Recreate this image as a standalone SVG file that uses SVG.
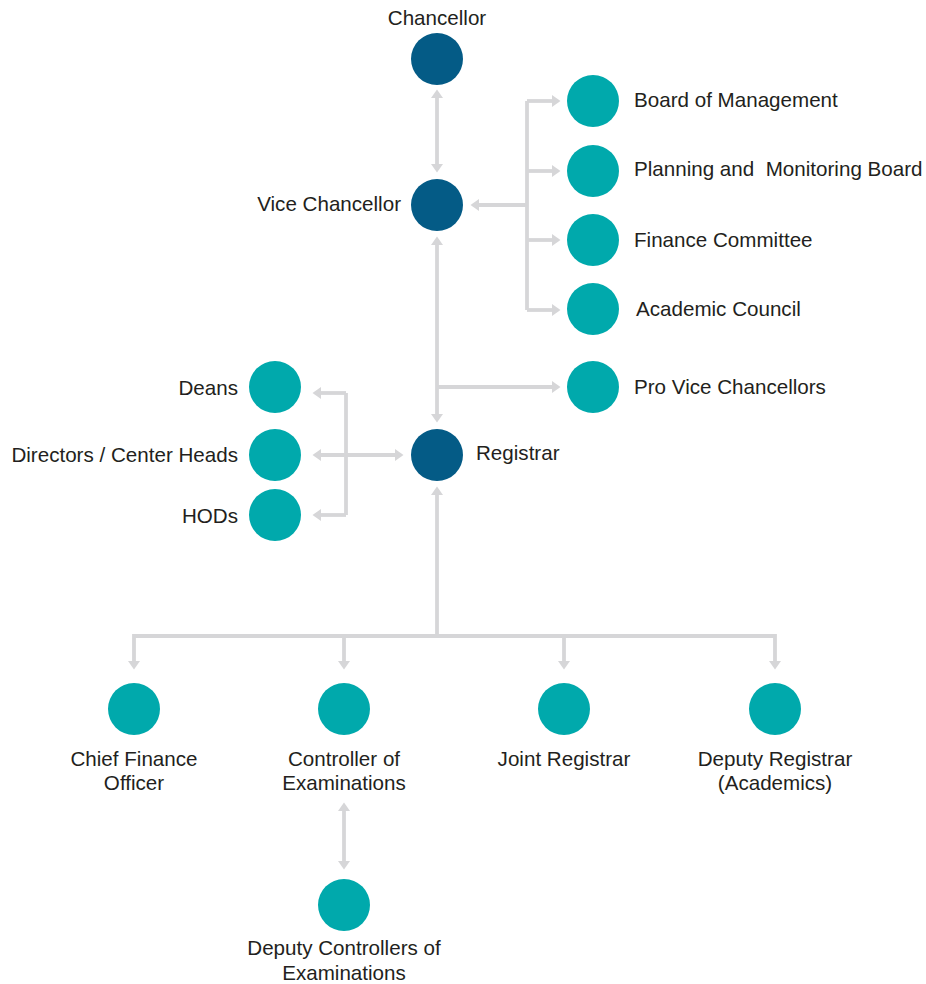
<svg xmlns="http://www.w3.org/2000/svg" width="926" height="984" viewBox="0 0 926 984">
<style>
.c{stroke:none}
.dk{fill:#045b86}
.tl{fill:#00a9ac}
text{font-family:"Liberation Sans",Arial,sans-serif;font-size:20.6px;fill:#231f20}
.m{text-anchor:middle}
.e{text-anchor:end}
.ln{fill:none;stroke:#d6d6d8;stroke-width:3.8}
</style>
<defs>
<marker id="a" markerUnits="userSpaceOnUse" markerWidth="12" markerHeight="13" refX="4" refY="6" orient="auto-start-reverse" viewBox="0 0 12 13">
<path d="M0,0 L8.5,6 L0,12 z" fill="#d6d6d8"/>
</marker>
</defs>
<rect width="926" height="984" fill="#ffffff"/>
<g id="connectors">
<path class="ln" d="M437,94 L437,168" marker-start="url(#a)" marker-end="url(#a)"/>
<path class="ln" d="M527,205 L475,205" marker-end="url(#a)"/>
<path class="ln" d="M527,101 L527,310"/>
<path class="ln" d="M527,101 L556,101" marker-end="url(#a)"/>
<path class="ln" d="M527,171 L556,171" marker-end="url(#a)"/>
<path class="ln" d="M527,240 L556,240" marker-end="url(#a)"/>
<path class="ln" d="M527,310 L556,310" marker-end="url(#a)"/>
<path class="ln" d="M437,241 L437,418" marker-start="url(#a)" marker-end="url(#a)"/>
<path class="ln" d="M437,387 L556,387" marker-end="url(#a)"/>
<path class="ln" d="M399,455 L317,455" marker-start="url(#a)" marker-end="url(#a)"/>
<path class="ln" d="M346,393 L346,515"/>
<path class="ln" d="M346,393 L317,393" marker-end="url(#a)"/>
<path class="ln" d="M346,515 L317,515" marker-end="url(#a)"/>
<path class="ln" d="M437,491 L437,636" marker-start="url(#a)"/>
<path class="ln" d="M134,665 L134,636 L775,636 L775,665" marker-start="url(#a)" marker-end="url(#a)"/>
<path class="ln" d="M344,636 L344,665" marker-end="url(#a)"/>
<path class="ln" d="M564,636 L564,665" marker-end="url(#a)"/>
<path class="ln" d="M344,807 L344,865" marker-start="url(#a)" marker-end="url(#a)"/>
</g>
<g id="chancellor"><circle class="c dk" cx="437" cy="59" r="26"/><text class="m" x="437" y="25">Chancellor</text></g>
<g id="vice-chancellor"><circle class="c dk" cx="437" cy="205" r="26"/><text class="e" x="401" y="211">Vice Chancellor</text></g>
<g id="board-of-management"><circle class="c tl" cx="593" cy="101" r="26"/><text x="634" y="107">Board of Management</text></g>
<g id="planning-board"><circle class="c tl" cx="593" cy="171" r="26"/><text x="634" y="176" xml:space="preserve">Planning and  Monitoring Board</text></g>
<g id="finance-committee"><circle class="c tl" cx="593" cy="240" r="26"/><text x="634" y="247">Finance Committee</text></g>
<g id="academic-council"><circle class="c tl" cx="593" cy="309" r="26"/><text x="636" y="316">Academic Council</text></g>
<g id="pro-vice-chancellors"><circle class="c tl" cx="593" cy="387" r="26"/><text x="634" y="394">Pro Vice Chancellors</text></g>
<g id="registrar"><circle class="c dk" cx="437" cy="455" r="26"/><text x="476" y="460">Registrar</text></g>
<g id="deans"><circle class="c tl" cx="275" cy="387" r="26"/><text class="e" x="238" y="395">Deans</text></g>
<g id="directors"><circle class="c tl" cx="275" cy="455" r="26"/><text class="e" x="238" y="462">Directors / Center Heads</text></g>
<g id="hods"><circle class="c tl" cx="275" cy="515" r="26"/><text class="e" x="238" y="523">HODs</text></g>
<g id="cfo"><circle class="c tl" cx="134" cy="709" r="26"/><text class="m" x="134" y="766">Chief Finance</text><text class="m" x="134" y="790">Officer</text></g>
<g id="controller"><circle class="c tl" cx="344" cy="709" r="26"/><text class="m" x="344" y="766">Controller of</text><text class="m" x="344" y="790">Examinations</text></g>
<g id="joint-registrar"><circle class="c tl" cx="564" cy="709" r="26"/><text class="m" x="564" y="766">Joint Registrar</text></g>
<g id="deputy-registrar"><circle class="c tl" cx="775" cy="709" r="26"/><text class="m" x="775" y="766">Deputy Registrar</text><text class="m" x="775" y="790">(Academics)</text></g>
<g id="deputy-controllers"><circle class="c tl" cx="344" cy="905" r="26"/><text class="m" x="344" y="955">Deputy Controllers of</text><text class="m" x="344" y="980">Examinations</text></g>
</svg>
